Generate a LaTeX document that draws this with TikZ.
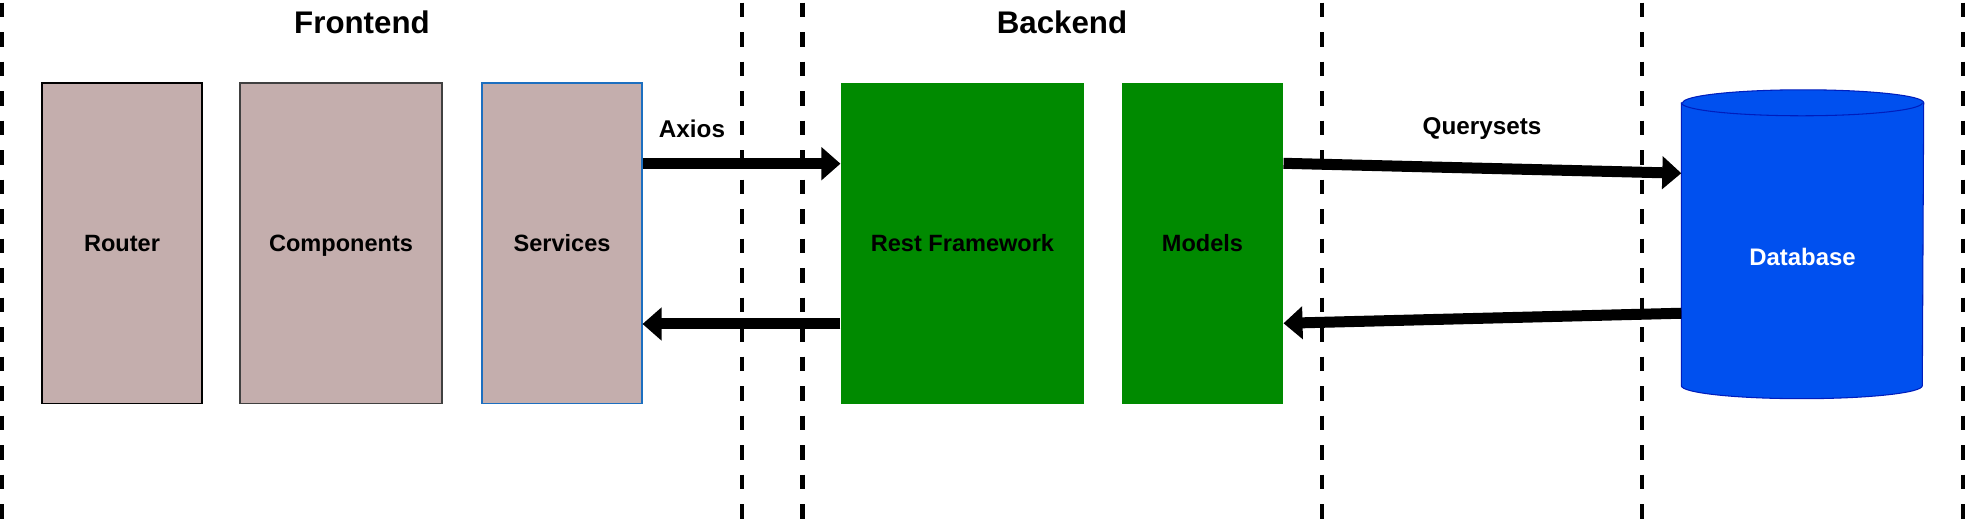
\documentclass[tikz,border=0pt]{standalone}
\usepackage{fontspec}
\setmainfont{Liberation Sans}
\usetikzlibrary{arrows.meta}
\definecolor{tierbrown}{HTML}{C4AEAD}
\definecolor{tiergreen}{HTML}{008A00}
\definecolor{tierblue}{HTML}{0050EF}
\definecolor{tierblueline}{HTML}{001DBC}
\definecolor{servline}{HTML}{1C6FC0}
\tikzset{
  layerbox/.style={rectangle,minimum height=3.206cm,inner sep=0pt,line width=0.3pt,text depth=0pt,
                   font=\fontsize{6.7}{8}\selectfont\bfseries},
  frontbox/.style={layerbox,fill=tierbrown},
  backbox/.style={layerbox,fill=tiergreen},
  tiertitle/.style={font=\fontsize{8.9}{10}\selectfont\bfseries},
  edgelabel/.style={font=\fontsize{6.9}{8}\selectfont\bfseries},
  bigarrow/.style={line width=0.11cm,-{Triangle[length=0.19cm,width=0.32cm]}},
  tierline/.style={line width=0.045cm,dash pattern=on 0.144cm off 0.151cm,dash phase=0.268cm}
}
\begin{document}
\begin{tikzpicture}
\useasboundingbox (0,0) rectangle (19.66,5.26);
            %% tier separators
            \foreach \x in {0.02,7.42,8.025,13.22,16.42,19.63}{
            \draw[tierline] (\x,5.26) -- (\x,0);
            }
            \node[tiertitle] (front) at (3.62,5.04) {Frontend};
            \node[tiertitle] (back) at (10.62,5.04) {Backend};

            %% frontend
            \node[frontbox,draw=black,minimum width=1.60cm] (router) at (1.22,2.827) {Router};
            \node[frontbox,draw=black!75,minimum width=2.02cm] (comp) at (3.41,2.827) {Components};
            \node[frontbox,draw=servline,minimum width=1.60cm] (serv) at (5.62,2.827) {Services};

            %% backend
            \node[backbox,minimum width=2.43cm] (rest) at (9.625,2.827) {Rest Framework};
            \node[backbox,minimum width=1.61cm] (models) at (12.025,2.827) {Models};

            %% database
            \node[minimum width=2.41cm,minimum height=2.815cm,inner sep=0pt] (db) at (18.025,2.8175) {};
            \filldraw[fill=tierblue,draw=tierblueline,line width=0.3pt] (db.north west) -- (db.south west)
                arc[start angle=180,end angle=360,x radius=1.205,y radius=0.13] -- (db.north east)
                arc[start angle=0,end angle=180,x radius=1.205,y radius=0.13] -- cycle;
            \draw[tierblueline,line width=0.3pt] (db.north west) arc[start angle=180,end angle=360,x radius=1.205,y radius=0.13];
            \node[white,text depth=0pt,font=\fontsize{6.8}{8}\selectfont\bfseries] (dbtext) at ([yshift=-0.125cm]db.center) {Database};

            %% requests and responses
            \draw[bigarrow] ([yshift=0.796cm]serv.east) -- ([yshift=0.796cm]rest.west);
            \draw[bigarrow] ([yshift=-0.807cm]rest.west) -- ([yshift=-0.807cm]serv.east);
            \draw[bigarrow] ([yshift=0.80cm]models.east) -- ([yshift=0.71cm]db.west);
            \draw[bigarrow] ([yshift=-0.69cm]db.west) -- ([yshift=-0.80cm]models.east);
            \node[edgelabel] (axios) at (6.92,3.975) {Axios};
            \node[edgelabel] (qsets) at (14.82,3.975) {Querysets};
\end{tikzpicture}
\end{document}
